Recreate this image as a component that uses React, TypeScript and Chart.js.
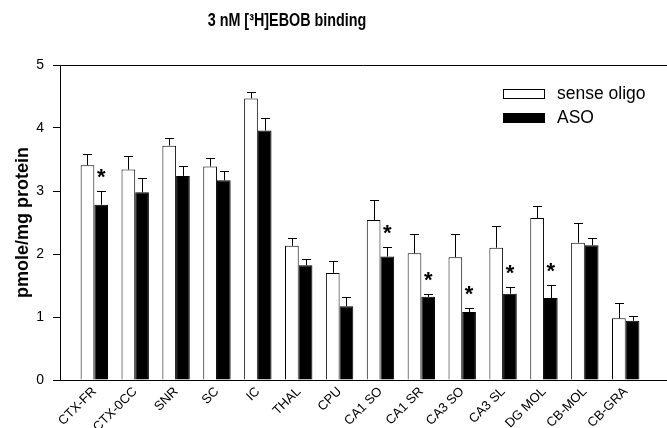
import React, { useEffect, useRef } from "react";
import { Chart, registerables } from "chart.js";

Chart.register(...registerables);

const categories = ["CTX-FR", "CTX-0CC", "SNR", "SC", "IC", "THAL", "CPU", "CA1 SO", "CA1 SR", "CA3 SO", "CA3 SL", "DG MOL", "CB-MOL", "CB-GRA"];
const senseValues = [3.41, 3.34, 3.72, 3.39, 4.47, 2.13, 1.70, 2.54, 2.01, 1.95, 2.10, 2.57, 2.18, 0.98];
const senseErrors = [0.18, 0.22, 0.12, 0.14, 0.10, 0.13, 0.19, 0.31, 0.31, 0.37, 0.34, 0.19, 0.32, 0.25];
const asoValues = [2.78, 2.98, 3.24, 3.17, 3.96, 1.82, 1.17, 1.96, 1.32, 1.08, 1.37, 1.30, 2.14, 0.94];
const asoErrors = [0.22, 0.23, 0.15, 0.15, 0.20, 0.10, 0.15, 0.15, 0.05, 0.07, 0.10, 0.21, 0.12, 0.08];
const asoSignificant = [true, false, false, false, false, false, false, true, true, true, true, true, false, false];
const seriesNames = ["sense oligo", "ASO"];
const yTicks = [0, 1, 2, 3, 4, 5];
const titleText = "3 nM [\u00B3H]EBOB binding";
const yTitleText = "pmole/mg protein";

const FONT = '"Liberation Sans", Arial, Helvetica, sans-serif';

const decorPlugin = {
  id: "decor",
  afterDatasetsDraw(chart: any) {
    const { ctx, chartArea, scales } = chart;
    const y = scales.y;
    const errorSets = [senseErrors, asoErrors];
    const valueSets = [senseValues, asoValues];
    ctx.save();
    ctx.strokeStyle = "#000";
    ctx.lineWidth = 1;
    ctx.beginPath();
    ctx.moveTo(chartArea.left, chartArea.top + 0.5);
    ctx.lineTo(chartArea.right, chartArea.top + 0.5);
    ctx.stroke();
    chart.data.datasets.forEach((_: any, di: number) => {
      const meta = chart.getDatasetMeta(di);
      meta.data.forEach((bar: any, i: number) => {
        const v = valueSets[di][i];
        const top = Math.round(y.getPixelForValue(v + errorSets[di][i])) + 0.5;
        const x = Math.round(bar.x) + 0.5;
        ctx.beginPath();
        ctx.moveTo(x, bar.y);
        ctx.lineTo(x, top);
        ctx.moveTo(x - 4.5, top);
        ctx.lineTo(x + 4.5, top);
        ctx.stroke();
      });
    });
    const asoMeta = chart.getDatasetMeta(1);
    ctx.fillStyle = "#000";
    ctx.font = `bold 22px ${FONT}`;
    ctx.textAlign = "center";
    ctx.textBaseline = "alphabetic";
    asoMeta.data.forEach((bar: any, i: number) => {
      if (!asoSignificant[i]) return;
      const top = y.getPixelForValue(asoValues[i] + asoErrors[i]);
      ctx.fillText("*", bar.x, top - 7);
    });
    ctx.restore();
  },
  afterDraw(chart: any) {
    const { ctx, chartArea } = chart;
    ctx.save();
    ctx.fillStyle = "#000";
    // title (condensed look)
    ctx.save();
    ctx.translate(287, 21);
    ctx.scale(0.82, 1);
    ctx.font = `bold 17.5px ${FONT}`;
    ctx.textAlign = "center";
    ctx.textBaseline = "middle";
    ctx.fillText(titleText, 0, 0);
    ctx.restore();
    // y axis title
    ctx.save();
    ctx.translate(23, (chartArea.top + chartArea.bottom) / 2);
    ctx.rotate(-Math.PI / 2);
    ctx.font = `bold 18px ${FONT}`;
    ctx.textAlign = "center";
    ctx.textBaseline = "middle";
    ctx.fillText(yTitleText, 0, 0);
    ctx.restore();
    // legend
    ctx.font = `17.5px ${FONT}`;
    ctx.textAlign = "left";
    ctx.textBaseline = "middle";
    chart.data.datasets.forEach((ds: any, i: number) => {
      const bx = 503;
      const by = 89 + i * 24;
      ctx.fillStyle = ds.backgroundColor;
      ctx.fillRect(bx, by, 42, 10);
      ctx.strokeStyle = "#000";
      ctx.lineWidth = 1;
      ctx.strokeRect(bx + 0.5, by + 0.5, 41, 9);
      ctx.fillStyle = "#000";
      ctx.fillText(ds.label, 557, by + 5);
    });
    ctx.restore();
  },
};

export default function App() {
  const canvasRef = useRef<HTMLCanvasElement | null>(null);

  useEffect(() => {
    document.body.style.margin = "0";
    const canvas = canvasRef.current;
    if (!canvas) return;
    const chart = new Chart(canvas, {
      type: "bar",
      data: {
        datasets: [
          {
            label: seriesNames[0],
            data: senseValues.map((v, i) => ({ x: i, y: v })),
            backgroundColor: "#ffffff",
            borderColor: "#000000",
            borderWidth: 1,
            borderSkipped: "bottom",
          },
          {
            label: seriesNames[1],
            data: asoValues.map((v, i) => ({ x: i, y: v })),
            backgroundColor: "#000000",
            borderColor: "#000000",
            borderWidth: 1,
            borderSkipped: "bottom",
          },
        ],
      },
      options: {
        responsive: false,
        animation: false,
        layout: { padding: { top: 65, right: 0, left: 0, bottom: 0 } },
        datasets: {
          bar: { barPercentage: 1, categoryPercentage: 0.67, grouped: true },
        } as any,
        plugins: {
          legend: { display: false },
          title: { display: false },
          tooltip: { enabled: false },
        },
        scales: {
          x: {
            type: "linear",
            offset: false,
            min: -0.84,
            max: 14.01,
            afterBuildTicks: (axis: any) => {
              axis.ticks = categories.map((_, i) => ({ value: i }));
            },
            afterFit: (scale: any) => {
              scale.height = 48;
            },
            grid: { display: false, drawTicks: false },
            border: { display: true, color: "#000", width: 1 },
            ticks: {
              autoSkip: false,
              maxRotation: 45,
              minRotation: 45,
              padding: 4,
              color: "#000",
              font: { family: FONT, size: 13 },
              callback: (value: any) => categories[value as number] ?? "",
            },
          },
          y: {
            min: 0,
            max: 5,
            afterBuildTicks: (axis: any) => {
              axis.ticks = yTicks.map((v) => ({ value: v }));
            },
            afterFit: (scale: any) => {
              scale.width = 60;
            },
            grid: { display: true, drawOnChartArea: false, drawTicks: true, tickLength: 7, color: "#000" },
            border: { display: true, color: "#000", width: 1 },
            ticks: {
              padding: 9,
              color: "#000",
              font: { family: FONT, size: 14 },
            },
          },
        },
      },
      plugins: [decorPlugin],
    });
    return () => chart.destroy();
  }, []);

  return (
    <div style={{ width: 667, height: 428 }}>
      <canvas ref={canvasRef} width={667} height={428} />
    </div>
  );
}
